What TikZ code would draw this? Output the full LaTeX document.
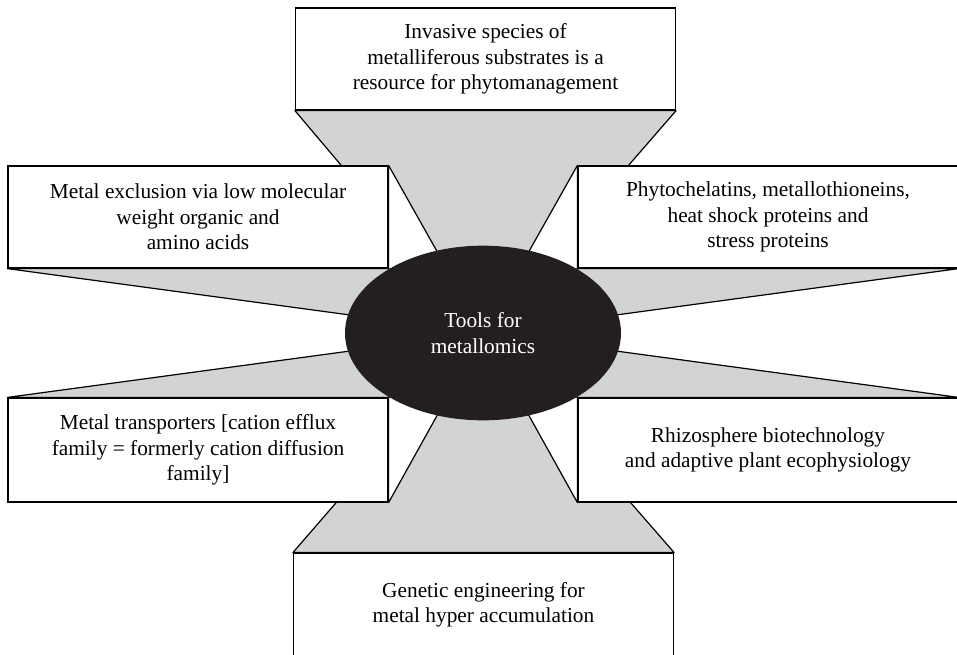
\documentclass[tikz,border=0pt]{standalone}
\usepackage{fontspec}
\setmainfont{Liberation Serif}
\usepackage{tikz}
\usetikzlibrary{shapes.geometric, backgrounds}
\definecolor{mygray}{RGB}{209,211,212}
\definecolor{myblack}{RGB}{35,31,32}

\begin{document}
\begin{tikzpicture}[x=0.75pt, y=-0.75pt,
    topic/.style={draw, line width=0.9pt, fill=white, minimum width=285pt, minimum height=76.5pt, align=center, inner sep=2pt, font=\fontsize{16}{19}\selectfont},
    graywedge/.style={draw, line width=0.9pt, fill=mygray, line join=round},
    whitewedge/.style={draw, line width=0.9pt, fill=white, line join=round}]
    \useasboundingbox (0,0) rectangle (957,654);

    % Centre ellipse
    \node[ellipse, fill=myblack, minimum width=207pt, minimum height=131pt, inner sep=0pt, text=white, align=center, font=\fontsize{16}{19}\selectfont] (hub) at (483,333) {Tools for\\metallomics};

    % Boxes round the centre
    \node[topic] (invasive) at (485.5,59) {Invasive species of\\metalliferous substrates is a\\resource for phytomanagement};
    \node[topic] (exclusion) at (198,217) {Metal exclusion via low molecular\\weight organic and\\amino acids};
    \node[topic] (chelatins) at (768,217) {Phytochelatins, metallothioneins,\\heat shock proteins and\\stress proteins};
    \node[topic, minimum height=78pt] (transport) at (198,450) {Metal transporters [cation efflux\\family = formerly cation diffusion\\family]};
    \node[topic, minimum height=78pt] (rhizo) at (768,450) {Rhizosphere biotechnology\\and adaptive plant ecophysiology};
    \node[topic, minimum height=77pt] (genetic) at (483.5,604.5) {Genetic engineering for\\metal hyper accumulation};

    % Wedges behind the boxes, all meeting in the centre
    \begin{scope}[on background layer]
        \draw[graywedge] (invasive.south west) -- (invasive.south east) -- (hub.center) -- cycle;
        \draw[graywedge] (genetic.north west) -- (genetic.north east) -- (hub.center) -- cycle;
        \draw[graywedge] (exclusion.south west) -- (exclusion.south east) -- (hub.center) -- cycle;
        \draw[graywedge] (transport.north west) -- (transport.north east) -- (hub.center) -- cycle;
        \draw[graywedge] (chelatins.south east) -- (chelatins.south west) -- (hub.center) -- cycle;
        \draw[graywedge] (rhizo.north east) -- (rhizo.north west) -- (hub.center) -- cycle;

        \draw[whitewedge] (exclusion.north east) -- (exclusion.south east) -- (hub.center) -- cycle;
        \draw[whitewedge] (transport.south east) -- (transport.north east) -- (hub.center) -- cycle;
        \draw[whitewedge] (chelatins.north west) -- (chelatins.south west) -- (hub.center) -- cycle;
        \draw[whitewedge] (rhizo.south west) -- (rhizo.north west) -- (hub.center) -- cycle;
    \end{scope}
\end{tikzpicture}
\end{document}
